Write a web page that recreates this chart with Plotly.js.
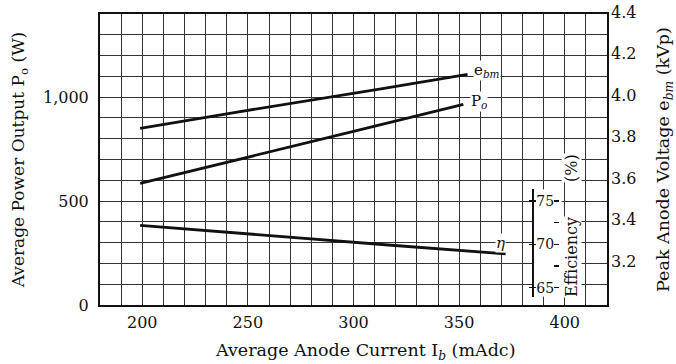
<!DOCTYPE html>
<html>
<head>
<meta charset="utf-8">
<script src="https://cdn.plot.ly/plotly-3.0.1.min.js"></script>
<style>
  html, body { margin: 0; padding: 0; background: #fff; }
  #chart { width: 676px; height: 364px; }
</style>
</head>
<body>
<div id="chart"></div>
<script>
// Average anode current (mAdc) and the three characteristic curves
const currentEbm = [199, 240, 313, 354];
const peakVoltage = [3.85, 3.92, 4.04, 4.11];      // kVp
const currentPo = [199, 250, 300, 352];
const powerOutput = [585, 710, 835, 965];          // W
const currentEff = [199, 250, 318, 372];
const efficiency = [72.2, 71.2, 69.9, 68.9];       // %

// Tick labels
const currentTicks = [200, 250, 300, 350, 400];
const powerTicks = [0, 500, 1000];
const powerTickText = ['0', '500', '1,000'];
const voltageTicks = [3.2, 3.4, 3.6, 3.8, 4.0, 4.2, 4.4];
const effTicks = [65, 70, 75];
const effHalfTicks = [65, 67.5, 70, 72.5, 75];

const FONT = 'DejaVu Serif, Liberation Serif, serif';
const INK = '#111';
const GRID = '#333';

const curve = { color: INK, width: 2.8 };

const traces = [
  { x: currentEbm, y: peakVoltage, yaxis: 'y2', mode: 'lines', line: curve, hoverinfo: 'skip', showlegend: false },
  { x: currentPo, y: powerOutput, yaxis: 'y', mode: 'lines', line: curve, hoverinfo: 'skip', showlegend: false },
  { x: currentEff, y: efficiency, yaxis: 'y3', mode: 'lines', line: curve, hoverinfo: 'skip', showlegend: false },
  { x: [], y: [], yaxis: 'y4', mode: 'lines', hoverinfo: 'skip', showlegend: false },
  { x: [], y: [], yaxis: 'y5', mode: 'lines', hoverinfo: 'skip', showlegend: false }
];

// Efficiency scale sits inside the plot, on the lower right
const effDomain = [0.0285, 0.3976];
const effRange = [63.96, 76.36];
const effPos = 0.852;

const layout = {
  width: 676, height: 364,
  margin: { l: 100, r: 69, t: 14, b: 59 },
  paper_bgcolor: '#fff',
  plot_bgcolor: 'rgba(0,0,0,0)',
  font: { family: FONT, size: 16, color: INK },
  showlegend: false,
  xaxis: {
    range: [180, 420],
    tickvals: currentTicks,
    ticks: '',
    ticklabelstandoff: 2,
    showgrid: true, gridcolor: GRID, gridwidth: 1,
    minor: { dtick: 10, tick0: 180, showgrid: true, gridcolor: GRID, gridwidth: 1 },
    showline: true, mirror: true, linecolor: INK, linewidth: 2,
    zeroline: false
  },
  yaxis: {
    range: [0, 1400],
    tickvals: powerTicks, ticktext: powerTickText,
    ticks: '',
    ticklabelstandoff: 6,
    showgrid: true, gridcolor: GRID, gridwidth: 1,
    minor: { dtick: 100, tick0: 0, showgrid: true, gridcolor: GRID, gridwidth: 1 },
    showline: true, mirror: true, linecolor: INK, linewidth: 2,
    zeroline: false,
    title: { text: 'Average Power Output P<sub>o</sub> (W)', standoff: 14, font: { size: 17 } }
  },
  yaxis2: {
    overlaying: 'y', side: 'right',
    range: [3.0, 4.4],
    tickvals: voltageTicks, tickformat: '.1f',
    ticks: '',
    ticklabelstandoff: 3,
    ticklabelshift: -2,
    showgrid: false, zeroline: false, showline: false,
    title: { text: 'Peak Anode Voltage e<sub><i>bm</i></sub> (kVp)', standoff: 24, font: { size: 17.5 } }
  },
  yaxis3: {
    anchor: 'free', position: effPos, side: 'right',
    domain: effDomain, range: effRange,
    tickvals: effTicks,
    ticks: 'inside', ticklen: 3, tickwidth: 1.2, tickcolor: INK,
    tickfont: { size: 14 },
    ticklabelstandoff: 0,
    showline: true, linecolor: INK, linewidth: 1.6,
    showgrid: false, zeroline: false
  },
  yaxis4: {
    overlaying: 'y3', anchor: 'free', position: 0.894, side: 'right',
    range: effRange,
    tickvals: effHalfTicks,
    ticks: 'outside', ticklen: 5, tickwidth: 1.2, tickcolor: INK,
    showticklabels: false, showline: false, showgrid: false, zeroline: false
  },
  yaxis5: {
    overlaying: 'y3', anchor: 'free', position: effPos, side: 'right',
    range: effRange,
    tickvals: effTicks,
    ticks: 'outside', ticklen: 3, tickwidth: 1.2, tickcolor: INK,
    showticklabels: false, showline: false, showgrid: false, zeroline: false
  },
  shapes: [
    // clears the grid behind the efficiency scale
    { type: 'rect', layer: 'between', xref: 'x', yref: 'y3',
      x0: 384.8, x1: 398.5, y0: effRange[0], y1: effRange[1],
      fillcolor: '#fff', line: { width: 0 } }
  ],
  annotations: [
    { x: 0.522, y: -0.161, xref: 'paper', yref: 'paper', xanchor: 'center', yanchor: 'middle',
      text: 'Average Anode Current I<sub><i>b</i></sub> (mAdc)', showarrow: false, font: { size: 17.5 } },
    { x: 356.5, y: 4.13, xref: 'x', yref: 'y2', xanchor: 'left', yanchor: 'middle',
      text: 'e<sub><i>bm</i></sub>', showarrow: false, bgcolor: '#fff', borderpad: 0, font: { size: 15 } },
    { x: 355, y: 980, xref: 'x', yref: 'y', xanchor: 'left', yanchor: 'middle',
      text: 'P<sub><i>o</i></sub>', showarrow: false, bgcolor: '#fff', borderpad: 0, font: { size: 15 } },
    { x: 369.5, y: 70.15, xref: 'x', yref: 'y3', xanchor: 'center', yanchor: 'middle',
      text: '<i>η</i>', showarrow: false, bgcolor: '#fff', borderpad: 0, font: { size: 15 } },
    { x: 0.931, y: 0.165, xref: 'paper', yref: 'paper', xanchor: 'center', yanchor: 'middle', textangle: -90,
      text: 'Efficiency', showarrow: false, bgcolor: '#fff', borderpad: 0, font: { size: 16 } },
    { x: 0.931, y: 0.471, xref: 'paper', yref: 'paper', xanchor: 'center', yanchor: 'middle', textangle: -90,
      text: '(%)', showarrow: false, bgcolor: '#fff', borderpad: 0, font: { size: 16 } }
  ]
};

Plotly.newPlot('chart', traces, layout, { staticPlot: true, displayModeBar: false });
</script>
</body>
</html>
